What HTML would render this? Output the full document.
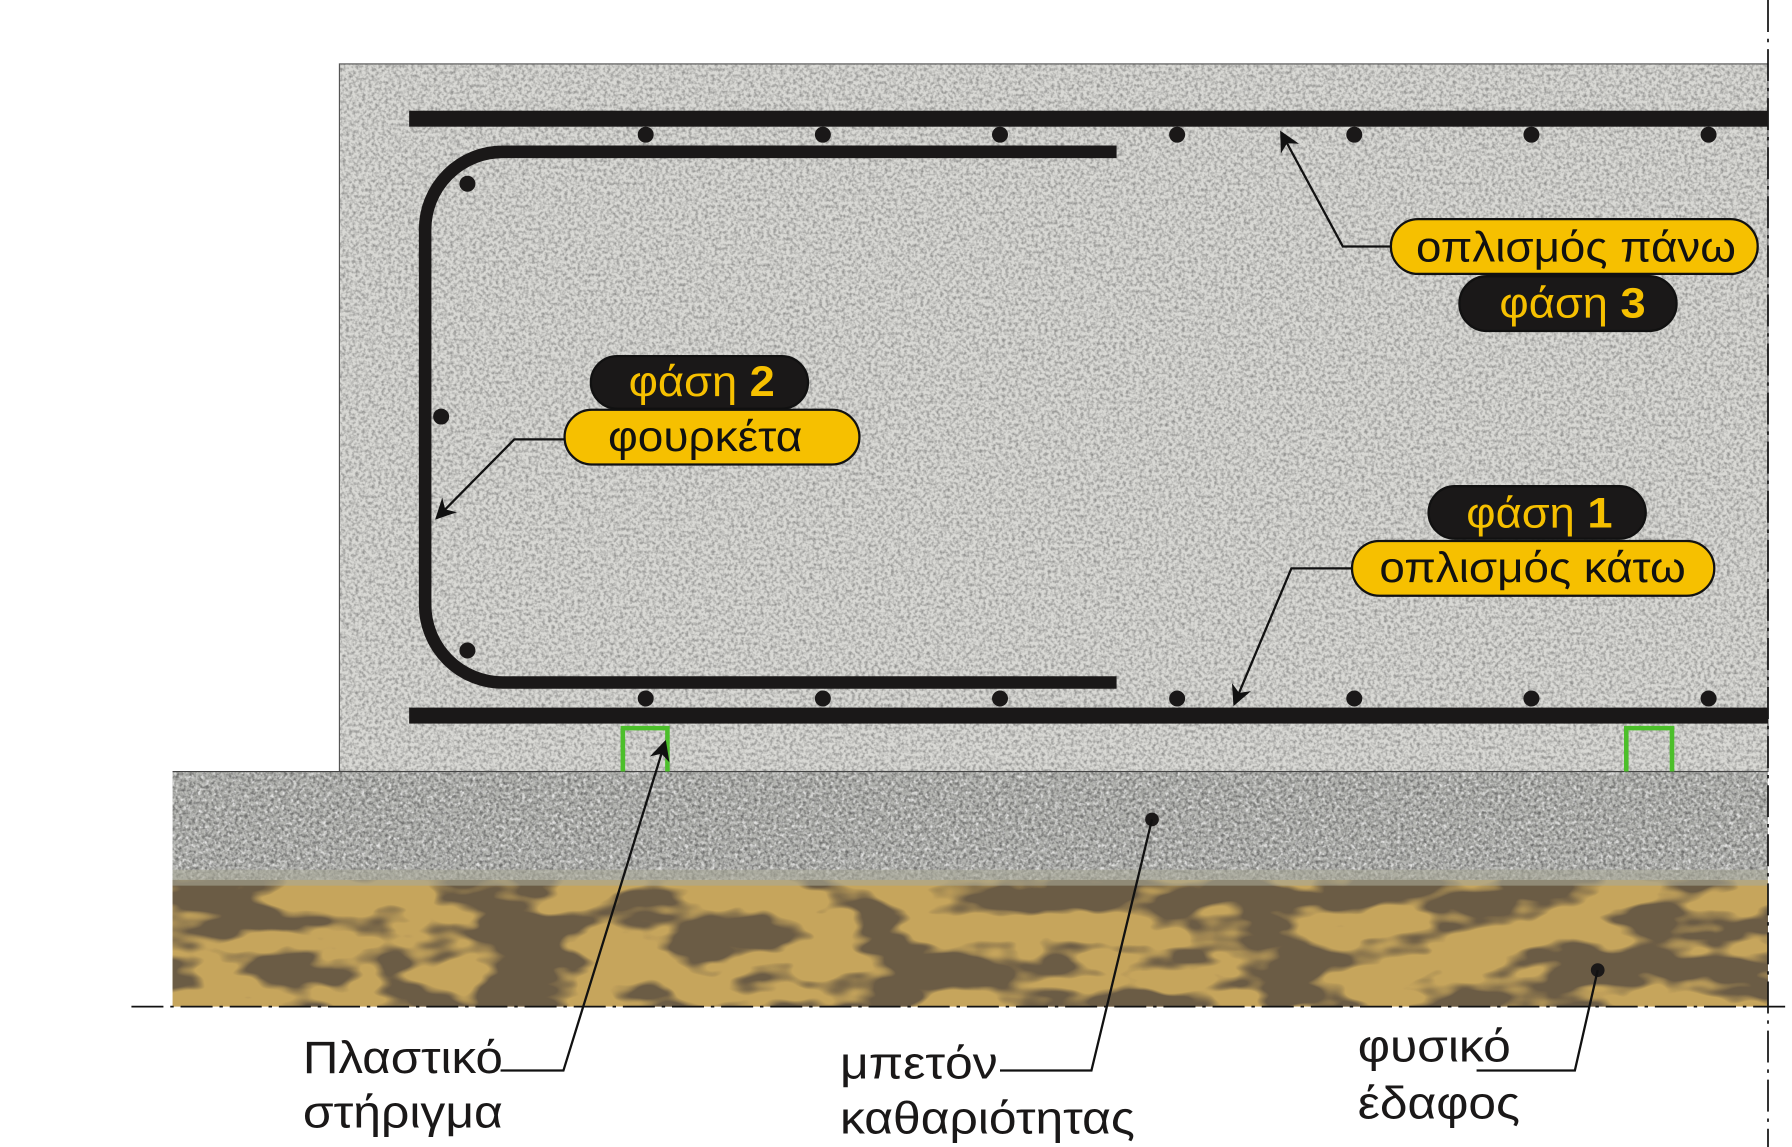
<!DOCTYPE html>
<html><head><meta charset="utf-8"><style>
html,body{margin:0;padding:0;background:#fff;width:1792px;height:1147px;overflow:hidden}
svg{display:block}
text{font-family:"Liberation Sans",sans-serif}
</style></head><body>
<svg width="1792" height="1147" viewBox="0 0 1568 1005" preserveAspectRatio="none" xmlns="http://www.w3.org/2000/svg">
<defs>
<filter id="tex" x="0" y="0" width="100%" height="100%" color-interpolation-filters="sRGB">
<feTurbulence type="fractalNoise" baseFrequency="0.35" numOctaves="2" seed="3" result="n"/>
<feColorMatrix in="n" type="matrix" values="0 0 0 0 0.3  0 0 0 0 0.3  0 0 0 0 0.3  0 0 0 -2.2 1.35" result="c"/>
<feComposite in="c" in2="SourceGraphic" operator="in"/>
</filter>
<filter id="tex2" x="0" y="0" width="100%" height="100%" color-interpolation-filters="sRGB">
<feTurbulence type="fractalNoise" baseFrequency="0.3" numOctaves="2" seed="5" result="n"/>
<feColorMatrix in="n" type="matrix" values="0 0 0 0 0.95  0 0 0 0 0.95  0 0 0 0 0.95  0 0 0 -3 1.6" result="c"/>
<feComposite in="c" in2="SourceGraphic" operator="in"/>
</filter>
<filter id="soil" x="0" y="0" width="100%" height="100%" color-interpolation-filters="sRGB">
<feTurbulence type="fractalNoise" baseFrequency="0.012 0.03" numOctaves="3" seed="7" result="n"/>
<feColorMatrix in="n" type="matrix" values="0 0 0 0 0.42  0 0 0 0 0.36  0 0 0 0 0.27  0 0 0 -8 4.4" result="c"/>
<feComposite in="c" in2="SourceGraphic" operator="in"/>
</filter>
<marker id="arb" viewBox="0 0 10 10" refX="9" refY="5" markerWidth="22" markerHeight="18" orient="auto" markerUnits="userSpaceOnUse">
<path d="M0,0 L10,5 L0,10 L3,5 z" fill="#111"/></marker>
</defs>
<rect x="297" y="56" width="1250" height="620" fill="#d9d9d5" stroke="#555" stroke-width="1"/>
<rect x="297" y="56" width="1250" height="620" fill="#fff" filter="url(#tex)" opacity="0.5"/>
<rect x="151" y="676" width="1396" height="95" fill="#b3b4b0"/>
<rect x="151" y="676" width="1396" height="95" fill="#fff" filter="url(#tex2)" opacity="0.8"/>
<rect x="151" y="676" width="1396" height="95" fill="#fff" filter="url(#tex)" opacity="0.7"/>
<line x1="151" y1="676" x2="1547" y2="676" stroke="#444" stroke-width="1"/>
<rect x="151" y="771" width="1396" height="111" fill="#c6a55c"/>
<rect x="151" y="771" width="1396" height="111" fill="#fff" filter="url(#soil)"/>
<rect x="151" y="762" width="1396" height="14" fill="#a9a898" opacity="0.6"/>
<line x1="115" y1="882" x2="1568" y2="882" stroke="#111" stroke-width="1.5" stroke-dasharray="28,6,3,6"/>
<line x1="1547" y1="0" x2="1547" y2="1005" stroke="#111" stroke-width="1.5" stroke-dasharray="28,6,3,6"/>
<rect x="358" y="97" width="1189" height="14" fill="#1a1818"/>
<rect x="358" y="620" width="1189" height="14" fill="#1a1818"/>
<path d="M977,133 L440,133 A68,68 0 0 0 372,201 L372,530 A68,68 0 0 0 440,598 L977,598" fill="none" stroke="#1a1818" stroke-width="11"/>
<g fill="#1a1818">
<circle cx="565" cy="118" r="7"/><circle cx="720" cy="118" r="7"/><circle cx="875" cy="118" r="7"/><circle cx="1030" cy="118" r="7"/><circle cx="1185" cy="118" r="7"/><circle cx="1340" cy="118" r="7"/><circle cx="1495" cy="118" r="7"/>
<circle cx="565" cy="612" r="7"/><circle cx="720" cy="612" r="7"/><circle cx="875" cy="612" r="7"/><circle cx="1030" cy="612" r="7"/><circle cx="1185" cy="612" r="7"/><circle cx="1340" cy="612" r="7"/><circle cx="1495" cy="612" r="7"/>
<circle cx="409" cy="161" r="7"/><circle cx="386" cy="365" r="7"/><circle cx="409" cy="570" r="7"/>
<circle cx="1008" cy="718" r="6"/><circle cx="1398" cy="850" r="6"/>
</g>
<path d="M545,676 L545,638 L584,638 L584,676" fill="none" stroke="#4cbf2a" stroke-width="4"/>
<path d="M1423,676 L1423,638 L1463,638 L1463,676" fill="none" stroke="#4cbf2a" stroke-width="4"/>
<g fill="none" stroke="#111" stroke-width="2">
<path d="M1217,216 L1175,216 L1121,116" marker-end="url(#arb)"/>
<path d="M494,385 L450,385 L382,454" marker-end="url(#arb)"/>
<path d="M1183,498 L1130,498 L1080,617" marker-end="url(#arb)"/>
<path d="M438,938 L493,938 L582,650" marker-end="url(#arb)"/>
<path d="M875,938 L955,938 L1008,718"/>
<path d="M1292,938 L1378,938 L1398,850"/>
</g>
<g stroke="#111" stroke-width="2">
<rect x="1277" y="242" width="190" height="48" rx="24" fill="#1a1818"/>
<rect x="1217" y="192" width="321" height="48" rx="24" fill="#f6c000"/>
<rect x="517" y="312" width="190" height="46" rx="23" fill="#1a1818"/>
<rect x="494" y="359" width="258" height="48" rx="24" fill="#f6c000"/>
<rect x="1250" y="426" width="190" height="46" rx="23" fill="#1a1818"/>
<rect x="1183" y="474" width="317" height="48" rx="24" fill="#f6c000"/>
</g>
<g font-size="37">
<text x="1239" y="229" fill="#111" textLength="280" lengthAdjust="spacingAndGlyphs">οπλισμός πάνω</text>
<text x="1312" y="278" fill="#f6c000" textLength="128" lengthAdjust="spacingAndGlyphs">φάση <tspan font-weight="bold">3</tspan></text>
<text x="550" y="347" fill="#f6c000" textLength="128" lengthAdjust="spacingAndGlyphs">φάση <tspan font-weight="bold">2</tspan></text>
<text x="532" y="395" fill="#111" textLength="170" lengthAdjust="spacingAndGlyphs">φουρκέτα</text>
<text x="1283" y="462" fill="#f6c000" textLength="128" lengthAdjust="spacingAndGlyphs">φάση <tspan font-weight="bold">1</tspan></text>
<text x="1207" y="510" fill="#111" textLength="268" lengthAdjust="spacingAndGlyphs">οπλισμός κάτω</text>
</g>
<g font-size="40" fill="#1a1818">
<text x="265" y="940" textLength="175" lengthAdjust="spacingAndGlyphs">Πλαστικό</text>
<text x="265" y="988" textLength="175" lengthAdjust="spacingAndGlyphs">στήριγμα</text>
<text x="735" y="945" textLength="138" lengthAdjust="spacingAndGlyphs">μπετόν</text>
<text x="735" y="993" textLength="258" lengthAdjust="spacingAndGlyphs">καθαριότητας</text>
<text x="1188" y="930" textLength="134" lengthAdjust="spacingAndGlyphs">φυσικό</text>
<text x="1188" y="980" textLength="142" lengthAdjust="spacingAndGlyphs">έδαφος</text>
</g>
</svg>
</body></html>
